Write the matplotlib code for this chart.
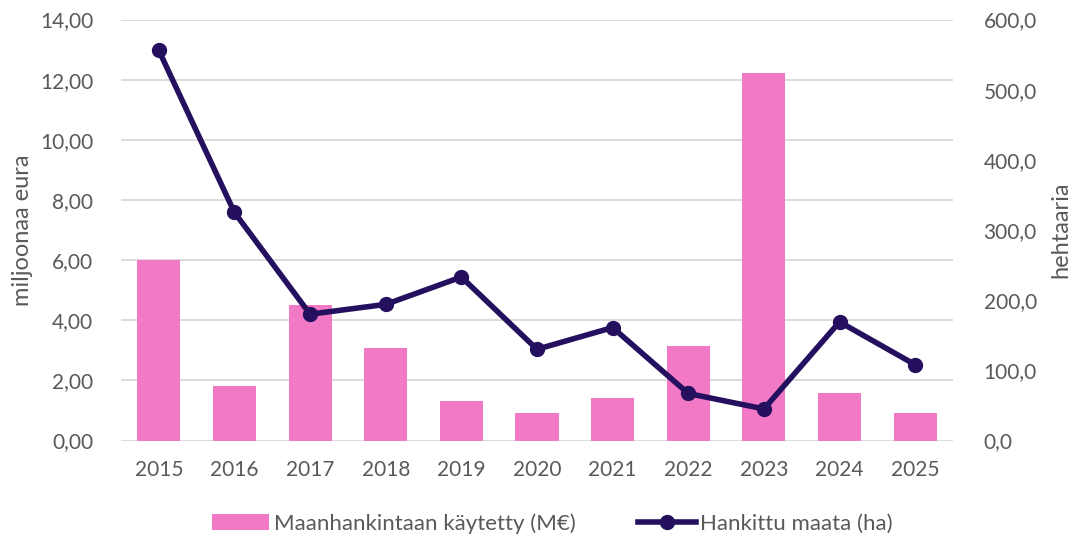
import matplotlib
matplotlib.use('Agg')
import matplotlib.pyplot as plt
import numpy as np

years = ['2015', '2016', '2017', '2018', '2019', '2020', '2021', '2022', '2023', '2024', '2025']
spent_meur = [6.00, 1.80, 4.49, 3.07, 1.30, 0.90, 1.41, 3.13, 12.22, 1.59, 0.92]
hectares = [556, 325, 180, 194, 233, 130, 161, 67, 45, 169, 108]

bar_color = '#F279C5'
line_color = '#24105F'
text_color = '#595959'

plt.rcParams['font.family'] = ['Lato', 'DejaVu Sans']

fig = plt.figure(figsize=(10.72, 5.38), dpi=100)
ax = fig.add_axes([121/1072, 1 - 440.5/538, 832/1072, 421/538])
ax2 = ax.twinx()

x = np.arange(len(years))
ax.bar(x, spent_meur, width=0.57, color=bar_color, label='Maanhankintaan käytetty (M€)', zorder=2)
ax2.plot(x, hectares, color=line_color, linewidth=4, marker='o', markersize=10,
         label='Hankittu maata (ha)', zorder=3)

ax.set_xlim(-0.5, len(years) - 0.5)
ax.set_ylim(0, 14)
ax2.set_ylim(0, 600)
ax.set_yticks(np.arange(0, 15, 2))
ax.set_yticklabels([f'{v:.2f}'.replace('.', ',') for v in np.arange(0, 15, 2)])
ax2.set_yticks(np.arange(0, 601, 100))
ax2.set_yticklabels([f'{v:.1f}'.replace('.', ',') for v in np.arange(0, 601, 100)])
ax.set_xticks(x)
ax.set_xticklabels(years)

ax.grid(axis='y', color='#D9D9D9', linewidth=1.3, zorder=0)
ax.set_axisbelow(True)
for a in (ax, ax2):
    for s in a.spines.values():
        s.set_visible(False)
    a.tick_params(length=0, colors=text_color, labelsize=15)
ax.tick_params(axis='y', pad=20)
ax.tick_params(axis='x', pad=14)
ax2.tick_params(axis='y', pad=22)

ax.set_ylabel('miljoonaa eura', fontsize=17, color=text_color, labelpad=5)
ax2.set_ylabel('hehtaaria', fontsize=17, color=text_color, labelpad=10)

h1, l1 = ax.get_legend_handles_labels()
h2, l2 = ax2.get_legend_handles_labels()
fig.legend(h1 + h2, l1 + l2, loc='center', bbox_to_anchor=(0.515, 0.027), ncol=2,
           frameon=False, labelcolor=text_color, handlelength=2.6,
           columnspacing=2.8, handletextpad=0.2,
           prop={'family': ['Lato', 'DejaVu Sans'], 'size': 16})

fig.savefig('out.png', dpi=100)
